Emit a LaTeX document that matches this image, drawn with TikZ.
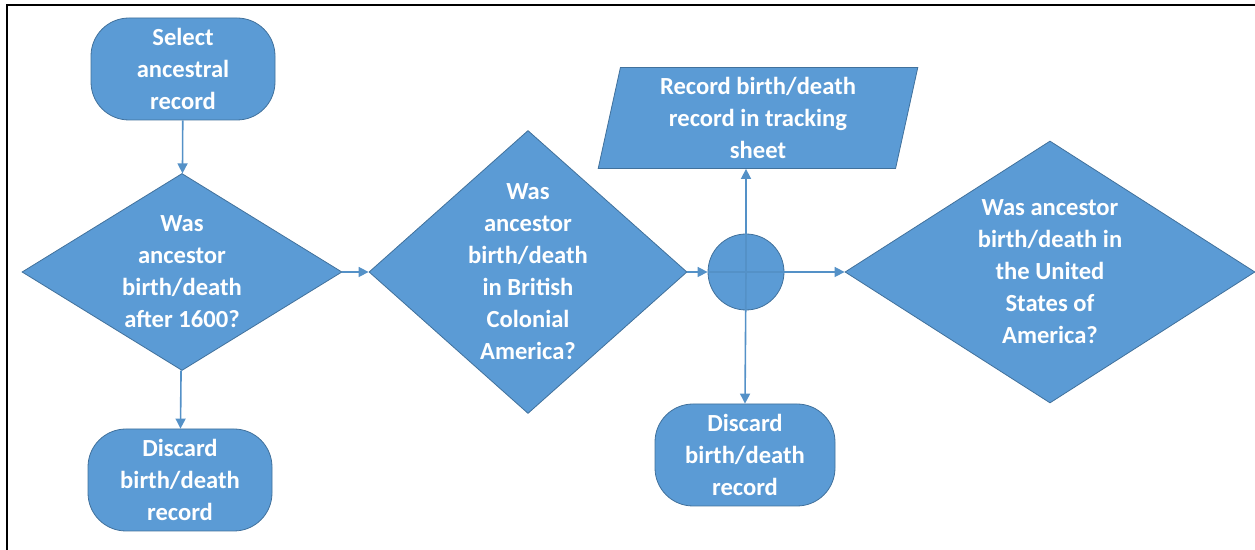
\documentclass[tikz,border=0pt]{standalone}
\usepackage{fontspec}
\setmainfont{Carlito}
\usetikzlibrary{shapes.geometric, arrows.meta}
\definecolor{boxblue}{HTML}{5B9BD5}
\definecolor{lineblue}{HTML}{41719C}
\begin{document}
\begin{tikzpicture}[x=0.5pt, y=-0.5pt,
    every node/.style={font=\fontsize{12.3}{16}\selectfont\bfseries, text=white, align=center, inner sep=0pt},
    terminal/.style={rectangle, rounded corners=19pt, fill=boxblue, draw=lineblue, minimum width=92pt, minimum height=51pt},
    decision/.style={diamond, fill=boxblue, draw=lineblue},
    record/.style={trapezium, trapezium left angle=79, trapezium right angle=101, trapezium stretches=true,
                   fill=boxblue, draw=lineblue, minimum width=160pt, minimum height=50.5pt},
    joint/.style={circle, fill=boxblue, draw=lineblue, minimum size=38pt},
    flow/.style={-{Triangle[length=5pt, width=5pt]}, boxblue!75!lineblue, line width=0.8pt}]

    \useasboundingbox (0,0) rectangle (1255,550);
    \draw [line width=1pt] (7,550) -- (7,5) -- (1255,5);

    \node[terminal] (select) at (183,69) {Select\\ancestral\\record};
    \node[decision, minimum width=160pt, minimum height=98.5pt,
          label={center:Was\\ancestor\\birth/death\\after 1600?}] (after) at (182,272) {};
    \node[terminal] (discardA) at (180,480) {Discard\\birth/death\\record};

    \node[decision, minimum width=159pt, minimum height=141.5pt,
          label={center:Was\\ancestor\\birth/death\\in British\\Colonial\\America?}] (british) at (528,272) {};

    \node[joint] (split) at (746,272) {};
    \node[record] (track) at (758,118) {Record birth/death\\record in tracking\\sheet};
    \node[terminal, minimum width=90pt] (discardB) at (745,455) {Discard\\birth/death\\record};

    \node[decision, minimum width=205pt, minimum height=131pt,
          label={center:Was ancestor\\birth/death in\\the United\\States of\\America?}] (usa) at (1050,272) {};

    \draw[flow] (select) -- (after);
    \draw[flow] (after) -- (discardA);
    \draw[flow] (after) -- (british);
    \draw[flow] (british) -- (split.west);
    \draw[flow] (split.west) -- (usa.west);
    \draw[flow] (split.center) -- (split.center |- track.south);
    \draw[flow] (split.center) -- (discardB.north);

\end{tikzpicture}
\end{document}
